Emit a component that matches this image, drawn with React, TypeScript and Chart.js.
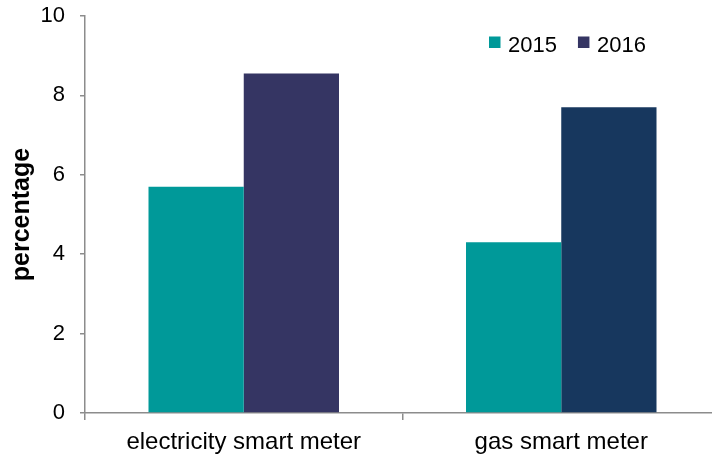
import React, { useEffect, useRef } from 'react';
import { Chart, registerables } from 'chart.js';

Chart.register(...registerables);

const categories = ['electricity smart meter', 'gas smart meter'];
const seriesLabels = ['2015', '2016'];
const values2015 = [5.7, 4.3];
const values2016 = [8.55, 7.7];
const yTickValues = [0, 2, 4, 6, 8, 10];

const colors2015 = ['#009999', '#009999'];
const colors2016 = ['#353563', '#17375e'];
const legendColors = ['#009999', '#353563'];

const FONT = "'Liberation Sans', Arial, sans-serif";
const W = 720;
const H = 470;

const legendPlugin = {
  id: 'customLegend',
  afterDraw(chart: any) {
    const ctx = chart.ctx;
    ctx.save();
    ctx.font = `22px ${FONT}`;
    ctx.textBaseline = 'alphabetic';
    ctx.textAlign = 'left';
    let x = 489;
    const boxY = 36.5;
    const box = 11.5;
    chart.data.datasets.forEach((ds: any, i: number) => {
      ctx.fillStyle = legendColors[i];
      ctx.fillRect(x, boxY, box, box);
      ctx.fillStyle = '#000000';
      const tx = x + box + 7.5;
      ctx.fillText(ds.label, tx, 52);
      x = tx + ctx.measureText(ds.label).width + 21;
    });
    ctx.restore();
  },
};

export default function App() {
  const ref = useRef<HTMLCanvasElement | null>(null);
  useEffect(() => {
    document.body.style.overflow = 'hidden';
    const canvas = ref.current;
    if (!canvas) return;
    const chart = new Chart(canvas, {
      type: 'bar',
      data: {
        labels: categories,
        datasets: [
          { label: seriesLabels[0], data: values2015, backgroundColor: colors2015 },
          { label: seriesLabels[1], data: values2016, backgroundColor: colors2016 },
        ],
      },
      options: {
        responsive: false,
        animation: false,
        devicePixelRatio: 1,
        layout: { padding: 0 },
        datasets: { bar: { categoryPercentage: 0.6, barPercentage: 1.0 } },
        plugins: { legend: { display: false }, tooltip: { enabled: false } },
        scales: {
          x: {
            afterFit: (s: any) => { s.height = H - 413; },
            grid: { drawOnChartArea: false, drawTicks: true, tickLength: 7, color: '#8c8c8c', lineWidth: 1.5, offset: true },
            border: { display: true, color: '#8c8c8c', width: 1.5 },
            ticks: { color: '#000000', font: { family: FONT, size: 24 }, padding: 8, maxRotation: 0 },
          },
          y: {
            min: 0,
            max: 10,
            afterFit: (s: any) => {
              s.width = 85;
              s.paddingTop = 16;
              s.paddingBottom = 0;
            },
            afterBuildTicks: (s: any) => { s.ticks = yTickValues.map((v) => ({ value: v })); },
            grid: { drawOnChartArea: false, drawTicks: true, tickLength: 5, color: '#8c8c8c', lineWidth: 1.5 },
            border: { display: true, color: '#8c8c8c', width: 1.5 },
            ticks: { color: '#000000', font: { family: FONT, size: 22 }, padding: 15 },
            title: {
              display: true,
              text: 'percentage',
              color: '#000000',
              font: { family: FONT, size: 25, weight: 'bold' },
              padding: { top: 7.5, bottom: 0 },
            },
          },
        },
      },
      plugins: [legendPlugin],
    });
    return () => chart.destroy();
  }, []);
  return (
    <div style={{ position: 'fixed', left: 0, top: 0, width: W, height: H }}>
      <canvas ref={ref} width={W} height={H} style={{ width: W, height: H, display: 'block' }} />
    </div>
  );
}
